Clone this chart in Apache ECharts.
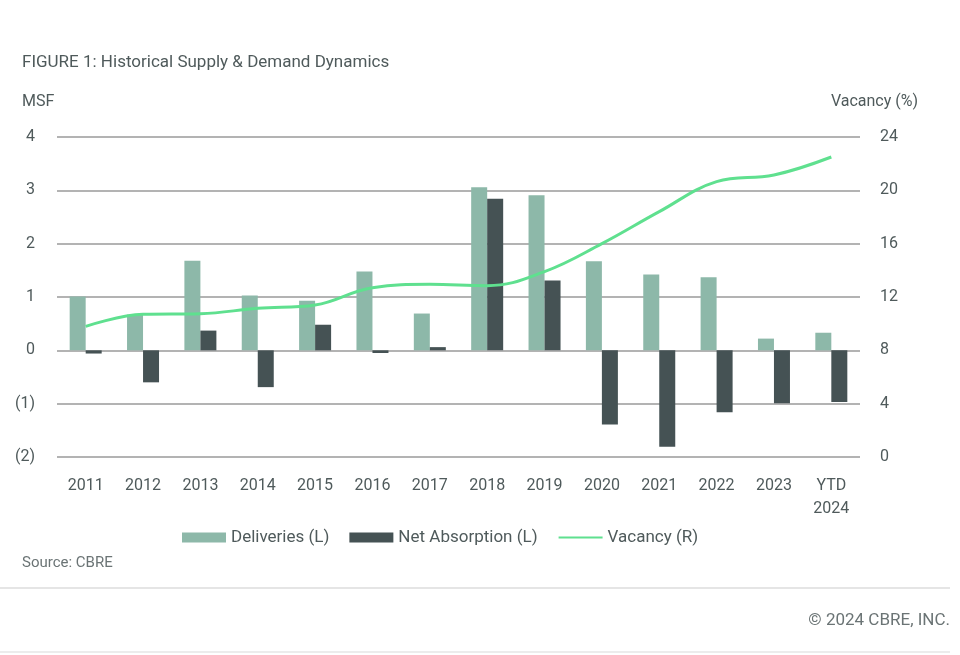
<!DOCTYPE html>
<html>
<head>
<meta charset="utf-8">
<script src="https://cdn.jsdelivr.net/npm/echarts@6/dist/echarts.min.js"></script>
<style>
  html, body { margin: 0; padding: 0; background: #fff; }
  #chart { width: 960px; height: 655px; }
</style>
</head>
<body>
<div id="chart"></div>
<script>
const years = ['2011', '2012', '2013', '2014', '2015', '2016', '2017', '2018', '2019', '2020', '2021', '2022', '2023', 'YTD\n2024'];
const deliveries = [1.01, 0.67, 1.68, 1.03, 0.93, 1.48, 0.69, 3.06, 2.91, 1.67, 1.42, 1.37, 0.22, 0.33];
const netAbsorption = [-0.06, -0.60, 0.37, -0.69, 0.48, -0.05, 0.06, 2.84, 1.31, -1.39, -1.81, -1.16, -0.99, -0.97];
const vacancy = [9.8, 10.7, 10.75, 11.15, 11.4, 12.7, 12.95, 12.85, 13.9, 16.0, 18.4, 20.65, 21.15, 22.5];

const textColor = '#4f5a5b';
const font = 'Roboto';

const chart = echarts.init(document.getElementById('chart'));

function label(text, pos, size, color) {
  return Object.assign({
    text: text,
    padding: 0,
    textStyle: { fontSize: size, fontWeight: 'normal', color: color || textColor, fontFamily: font }
  }, pos);
}

const option = {
  backgroundColor: '#fff',
  textStyle: { fontFamily: font },
  title: [
    label('FIGURE 1: Historical Supply & Demand Dynamics', { left: 22, top: 54 }, 17),
    label('MSF', { left: 22, top: 94 }, 16),
    label('Vacancy (%)', { right: 42, top: 94 }, 16),
    label('Source: CBRE', { left: 22, top: 556 }, 15, '#6b7475'),
    label('© 2024 CBRE, INC.', { right: 10, top: 612 }, 17, '#6b7475')
  ],
  graphic: [
    { type: 'line', shape: { x1: 0, y1: 588, x2: 950, y2: 588 }, style: { stroke: '#dcdcdc', lineWidth: 1.5 } },
    { type: 'line', shape: { x1: 0, y1: 652, x2: 950, y2: 652 }, style: { stroke: '#e6e6e6', lineWidth: 1.5 } }
  ],
  legend: {
    left: 177,
    top: 524,
    itemWidth: 44,
    itemHeight: 10,
    itemGap: 20,
    textStyle: { fontSize: 17, color: textColor, fontFamily: font },
    data: [
      { name: 'Deliveries (L)', icon: 'rect' },
      { name: 'Net Absorption (L)', icon: 'rect' },
      { name: 'Vacancy (R)', itemStyle: { opacity: 0 } }
    ]
  },
  grid: { left: 57, right: 100, top: 137, bottom: 198 },
  xAxis: {
    type: 'category',
    data: years,
    axisLine: { show: false },
    axisTick: { show: false },
    axisLabel: { fontSize: 16, color: textColor, margin: 17, lineHeight: 23, fontFamily: font }
  },
  yAxis: [
    {
      type: 'value',
      min: -2, max: 4, interval: 1,
      axisLine: { show: false },
      axisTick: { show: false },
      splitLine: { lineStyle: { color: '#9a9a9a', width: 1.5 } },
      axisLabel: {
        fontSize: 16, color: textColor, margin: 22, fontFamily: font,
        formatter: v => v < 0 ? '(' + Math.abs(v) + ')' : String(v)
      }
    },
    {
      type: 'value',
      min: 0, max: 24, interval: 4,
      axisLine: { show: false },
      axisTick: { show: false },
      splitLine: { show: false },
      axisLabel: { fontSize: 16, color: textColor, margin: 20, fontFamily: font }
    }
  ],
  series: [
    {
      name: 'Deliveries (L)', type: 'bar', data: deliveries,
      barWidth: 16, barGap: '0%',
      itemStyle: { color: '#8db8a9' }
    },
    {
      name: 'Net Absorption (L)', type: 'bar', data: netAbsorption,
      barWidth: 16, barGap: '0%',
      itemStyle: { color: '#455254' }
    },
    {
      name: 'Vacancy (R)', type: 'line', yAxisIndex: 1, data: vacancy,
      smooth: 0.4, symbol: 'none',
      lineStyle: { color: '#5fe08f', width: 3 },
      itemStyle: { color: '#5fe08f' }
    }
  ]
};

chart.setOption(option);
</script>
</body>
</html>
